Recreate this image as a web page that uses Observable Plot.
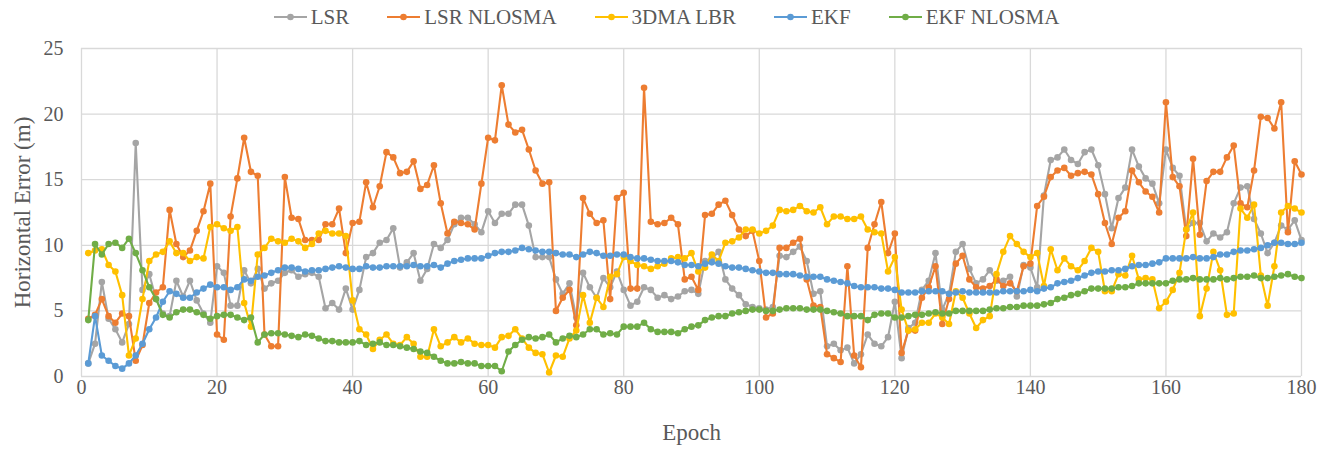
<!DOCTYPE html>
<html>
<head>
<meta charset="utf-8">
<script src="https://cdn.jsdelivr.net/npm/d3@7"></script>
<script src="https://cdn.jsdelivr.net/npm/@observablehq/plot@0.6"></script>
<style>
  html, body { margin: 0; padding: 0; background: #fff; }
  body { width: 1333px; height: 451px; overflow: hidden; font-family: "Liberation Serif", "Times New Roman", serif; }
  #legend { height: 34px; display: flex; justify-content: center; align-items: center; gap: 38px; color: #595959; font-size: 21px; padding-left: 0px; }
  .item { display: flex; align-items: center; gap: 4px; white-space: nowrap; }
  .item svg { display: block; }
  #chart svg text { font-family: "Liberation Serif", "Times New Roman", serif; }
</style>
</head>
<body>
<div id="legend"></div>
<div id="chart"></div>
<script>
// Horizontal positioning error per epoch for five estimators (metres)
const seriesNames = ["LSR", "LSR NLOSMA", "3DMA LBR", "EKF", "EKF NLOSMA"];
const seriesColors = ["#A5A5A5", "#ED7D31", "#FFC000", "#5B9BD5", "#70AD47"];

const lsr = [
  1.0, 2.5, 7.2, 4.4, 3.6, 2.6, 4.0, 17.8, 6.6, 7.8,
  5.9, 4.8, 4.6, 7.3, 6.1, 7.3, 5.8, 4.8, 4.1, 8.4,
  7.9, 5.4, 5.4, 8.1, 7.1, 8.2, 6.7, 7.1, 7.3, 7.9,
  8.1, 7.6, 7.8, 7.9, 7.6, 5.2, 5.6, 5.1, 6.7, 5.1,
  6.6, 9.1, 9.4, 10.2, 10.4, 11.3, 8.3, 8.7, 9.4, 7.3,
  8.2, 10.1, 9.8, 10.4, 11.6, 12.1, 12.1, 11.6, 11.0, 12.6,
  11.7, 12.4, 12.4, 13.1, 13.1, 11.5, 9.1, 9.1, 9.1, 7.4,
  6.3, 7.1, 4.5, 7.9, 6.8, 6.0, 7.5, 6.8, 8.0, 6.6,
  5.4, 5.7, 6.8, 6.6, 6.0, 6.2, 5.9, 6.1, 6.5, 6.6,
  6.3, 8.8, 9.0, 9.5, 7.4, 6.7, 6.2, 5.5, 5.3, 5.2,
  5.1, 5.3, 9.2, 9.1, 9.5, 9.9, 8.8, 6.3, 6.5, 2.3,
  2.5, 2.0, 2.2, 1.0, 1.7, 3.2, 2.5, 2.3, 3.0, 5.7,
  1.4, 3.7, 4.1, 6.6, 7.3, 9.4, 5.1, 6.3, 9.5, 10.1,
  8.2, 7.1, 7.4, 8.1, 7.3, 7.3, 7.6, 6.1, 8.5, 8.3,
  6.8, 13.8, 16.5, 16.7, 17.3, 16.5, 16.2, 17.1, 17.3, 16.1,
  13.9, 11.3, 13.6, 14.4, 17.3, 16.0, 15.1, 14.7, 13.2, 17.3,
  15.9, 15.3, 11.2, 11.7, 11.7, 10.3, 10.9, 10.6, 11.0, 13.2,
  14.4, 14.5, 12.0, 10.9, 9.4, 10.2, 11.5, 11.2, 11.9, 10.4
];

const lsrNlosma = [
  4.4, 4.7, 5.9, 4.6, 4.1, 4.8, 4.6, 1.2, 2.4, 5.6,
  6.4, 6.8, 12.7, 10.1, 9.1, 9.6, 11.1, 12.6, 14.7, 3.2,
  2.8, 12.2, 15.1, 18.2, 15.6, 15.3, 3.2, 2.3, 2.3, 15.2,
  12.1, 12.0, 10.4, 10.4, 10.4, 11.6, 11.6, 12.8, 9.4, 11.7,
  11.8, 14.8, 12.9, 14.5, 17.1, 16.7, 15.5, 15.6, 16.4, 14.3,
  14.6, 16.1, 13.2, 10.9, 11.8, 11.7, 11.6, 11.2, 14.7, 18.2,
  18.0, 22.2, 19.2, 18.6, 18.8, 17.3, 15.7, 14.7, 14.8, 5.0,
  6.0, 6.6, 3.9, 13.6, 12.4, 11.7, 11.9, 5.9, 13.6, 14.0,
  6.7, 6.7, 22.0, 11.8, 11.6, 11.7, 12.1, 11.6, 7.4, 7.6,
  6.6, 12.3, 12.4, 13.1, 13.4, 12.3, 11.2, 10.7, 11.1, 8.8,
  4.5, 4.8, 9.8, 9.8, 10.2, 10.5, 7.4, 5.4, 5.3, 1.7,
  1.4, 1.1, 8.4, 1.6, 0.7, 9.8, 11.6, 13.3, 9.4, 10.9,
  1.8, 3.5, 3.5, 6.0, 6.8, 8.4, 4.0, 5.9, 8.6, 9.2,
  7.4, 6.8, 6.7, 6.9, 7.4, 6.9, 7.1, 6.5, 8.4, 8.6,
  13.0, 13.7, 15.2, 15.7, 15.9, 15.3, 15.5, 15.6, 15.4, 13.9,
  11.7, 10.1, 12.1, 12.6, 15.7, 14.8, 14.1, 13.7, 12.5, 20.9,
  15.2, 14.5, 10.7, 16.6, 10.8, 14.9, 15.6, 15.6, 16.7, 17.6,
  13.2, 12.9, 15.7, 19.8, 19.7, 18.9, 20.9, 11.0, 16.4, 15.4
];

const dma3Lbr = [
  9.4, 9.6, 9.7, 8.5, 8.0, 6.2, 1.6, 2.9, 5.9, 8.8,
  9.3, 9.5, 10.3, 9.4, 9.4, 8.8, 9.1, 9.0, 11.4, 11.6,
  11.3, 11.1, 11.4, 5.6, 3.8, 9.3, 9.8, 10.5, 10.3, 10.2,
  10.5, 10.3, 9.8, 10.1, 10.9, 11.1, 10.9, 10.9, 10.7, 5.8,
  3.6, 3.2, 2.1, 2.8, 3.2, 2.5, 2.4, 3.0, 2.5, 1.5,
  1.5, 3.6, 2.3, 2.6, 3.0, 2.6, 2.9, 2.5, 2.4, 2.4,
  2.2, 3.0, 3.1, 3.6, 2.9, 2.2, 1.8, 1.7, 0.3, 1.6,
  1.5, 2.9, 3.5, 6.2, 4.1, 6.0, 5.3, 7.6, 7.8, 9.1,
  8.8, 8.5, 8.4, 8.2, 8.4, 8.6, 9.0, 9.1, 9.0, 9.4,
  8.0, 8.3, 9.3, 8.8, 10.2, 10.3, 10.6, 11.2, 11.2, 10.9,
  11.1, 11.5, 12.7, 12.6, 12.7, 13.0, 12.6, 12.5, 12.9, 11.6,
  12.2, 12.2, 12.0, 12.0, 12.2, 11.2, 11.0, 10.9, 8.0, 9.1,
  5.1, 3.5, 3.6, 4.1, 4.1, 4.8, 4.5, 4.0, 6.5, 6.0,
  4.8, 3.7, 4.3, 4.6, 7.8, 9.5, 10.7, 10.1, 9.5, 9.1,
  9.4, 6.9, 9.7, 8.1, 9.0, 8.4, 8.1, 8.8, 9.8, 9.5,
  6.5, 6.5, 7.8, 7.7, 9.2, 7.4, 7.5, 7.4, 5.2, 5.7,
  6.6, 7.9, 11.2, 12.5, 4.6, 6.7, 9.5, 8.1, 4.7, 4.8,
  12.8, 12.1, 13.1, 7.7, 5.4, 8.4, 12.5, 13.0, 12.8, 12.5
];

const ekf = [
  1.0, 4.6, 1.6, 1.2, 0.8, 0.6, 1.0, 1.6, 2.5, 3.6,
  4.5, 5.7, 6.5, 6.3, 6.0, 6.0, 6.4, 6.7, 7.0, 6.8,
  6.8, 6.6, 6.8, 7.4, 7.3, 7.6, 7.7, 7.9, 8.1, 8.3,
  8.3, 8.2, 8.0, 8.1, 8.1, 8.2, 8.3, 8.4, 8.3, 8.2,
  8.2, 8.4, 8.3, 8.3, 8.4, 8.4, 8.4, 8.4, 8.5, 8.4,
  8.4, 8.5, 8.3, 8.6, 8.8, 8.9, 9.0, 9.0, 9.0, 9.2,
  9.4, 9.5, 9.5, 9.6, 9.8, 9.7, 9.6, 9.5, 9.5, 9.4,
  9.3, 9.3, 9.1, 9.3, 9.5, 9.4, 9.2, 9.2, 9.3, 9.3,
  9.1, 9.0, 9.0, 8.9, 8.8, 8.8, 8.8, 8.7, 8.5, 8.5,
  8.4, 8.6, 8.7, 8.6, 8.4, 8.3, 8.3, 8.2, 8.1, 8.0,
  7.9, 7.9, 7.8, 7.8, 7.8, 7.7, 7.6, 7.6, 7.6, 7.4,
  7.3, 7.2, 7.1, 6.9, 6.8, 6.8, 6.8, 6.7, 6.7, 6.6,
  6.4, 6.4, 6.4, 6.5, 6.5, 6.5, 6.5, 6.3, 6.4, 6.5,
  6.4, 6.4, 6.4, 6.4, 6.4, 6.5, 6.5, 6.5, 6.5, 6.6,
  6.5, 6.7, 6.8, 7.1, 7.2, 7.3, 7.5, 7.7, 7.9, 8.0,
  8.0, 8.1, 8.1, 8.2, 8.4, 8.5, 8.5, 8.6, 8.7, 9.0,
  9.0, 9.0, 9.0, 9.1, 9.0, 9.0, 9.1, 9.3, 9.3, 9.5,
  9.6, 9.6, 9.7, 9.8, 10.0, 10.2, 10.2, 10.1, 10.1, 10.2
];

const ekfNlosma = [
  4.3, 10.1, 9.3, 10.1, 10.2, 9.8, 10.5, 9.4, 8.1, 6.8,
  5.9, 4.7, 4.5, 4.9, 5.1, 5.1, 4.9, 4.7, 4.4, 4.6,
  4.7, 4.7, 4.5, 4.3, 4.5, 2.6, 3.2, 3.3, 3.3, 3.2,
  3.1, 3.0, 3.2, 3.1, 2.9, 2.7, 2.7, 2.6, 2.6, 2.6,
  2.7, 2.4, 2.5, 2.6, 2.4, 2.4, 2.3, 2.2, 2.1, 1.9,
  1.8, 1.5, 1.2, 1.0, 1.0, 1.1, 1.0, 1.0, 0.8, 0.8,
  0.8, 0.4, 1.9, 2.4, 2.8, 3.0, 2.9, 3.0, 3.2, 2.6,
  2.9, 3.1, 3.0, 3.2, 3.6, 3.6, 3.2, 3.3, 3.2, 3.8,
  3.8, 3.8, 4.1, 3.6, 3.4, 3.4, 3.4, 3.3, 3.6, 3.8,
  3.9, 4.3, 4.5, 4.6, 4.6, 4.8, 4.9, 5.0, 5.1, 5.1,
  5.0, 5.0, 5.1, 5.2, 5.2, 5.2, 5.1, 5.1, 5.1, 5.0,
  4.9, 4.8, 4.6, 4.6, 4.6, 4.3, 4.7, 4.8, 4.8, 4.5,
  4.5, 4.6, 4.7, 4.7, 4.8, 4.9, 4.8, 4.8, 5.0, 5.0,
  5.0, 5.0, 5.0, 5.1, 5.2, 5.2, 5.3, 5.3, 5.4, 5.4,
  5.4, 5.5, 5.6, 5.9, 6.0, 6.2, 6.3, 6.5, 6.7, 6.7,
  6.7, 6.7, 6.8, 6.8, 6.9, 7.1, 7.1, 7.1, 7.1, 7.1,
  7.3, 7.4, 7.4, 7.5, 7.4, 7.4, 7.4, 7.5, 7.4, 7.5,
  7.6, 7.6, 7.7, 7.5, 7.5, 7.6, 7.7, 7.8, 7.6, 7.5
];

const xTicks = [0, 20, 40, 60, 80, 100, 120, 140, 160, 180];
const yTicks = [0, 5, 10, 15, 20, 25];

const seriesValues = [lsr, lsrNlosma, dma3Lbr, ekf, ekfNlosma];
const fontStack = '"Liberation Serif", "Times New Roman", serif';

// Legend: line-with-marker swatch followed by the series name
const legend = document.getElementById("legend");
seriesNames.forEach((name, i) => {
  const item = document.createElement("div");
  item.className = "item";
  item.innerHTML =
    `<svg width="33" height="12"><line x1="0" y1="6" x2="33" y2="6" stroke="${seriesColors[i]}" stroke-width="2.2"/>` +
    `<circle cx="16.5" cy="6" r="3.3" fill="${seriesColors[i]}"/></svg><span>${name}</span>`;
  legend.appendChild(item);
});

// One line + markers per series, drawn in series order so later ones sit on top
const seriesMarks = seriesValues.flatMap((vals, i) => {
  const rows = vals.map((v, k) => ({ epoch: k + 1, error: v }));
  return [
    Plot.line(rows, { x: "epoch", y: "error", stroke: seriesColors[i], strokeWidth: 2.1 }),
    Plot.dot(rows, { x: "epoch", y: "error", fill: seriesColors[i], r: 3.3, stroke: "none" })
  ];
});

const chart = Plot.plot({
  width: 1333,
  height: 417,
  marginLeft: 81,
  marginRight: 32,
  marginTop: 14,
  marginBottom: 75,
  style: { fontFamily: fontStack, fontSize: "20px", color: "#595959", background: "#fff", overflow: "visible" },
  x: { domain: [0, 180] },
  y: { domain: [0, 25] },
  marks: [
    Plot.gridY(yTicks, { stroke: "#d9d9d9", strokeOpacity: 1, strokeWidth: 1.3 }),
    Plot.gridX(xTicks, { stroke: "#d9d9d9", strokeOpacity: 1, strokeWidth: 1.3 }),
    Plot.axisX(xTicks, { tickSize: 0, tickPadding: 3, label: null, fontSize: 20, fontFamily: fontStack }),
    Plot.axisY(yTicks, { tickSize: 0, tickPadding: 18, label: null, fontSize: 20, fontFamily: fontStack }),
    ...seriesMarks,
    Plot.text(["Horizontal Error (m)"], {
      text: d => d, frameAnchor: "left", dx: -59, rotate: -90,
      textAnchor: "middle", lineAnchor: "middle", fontSize: 23, fontFamily: fontStack
    }),
    Plot.text(["Epoch"], {
      text: d => d, frameAnchor: "bottom", dy: 56,
      textAnchor: "middle", lineAnchor: "middle", fontSize: 23, fontFamily: fontStack
    })
  ]
});
document.getElementById("chart").appendChild(chart);
</script>
</body>
</html>
